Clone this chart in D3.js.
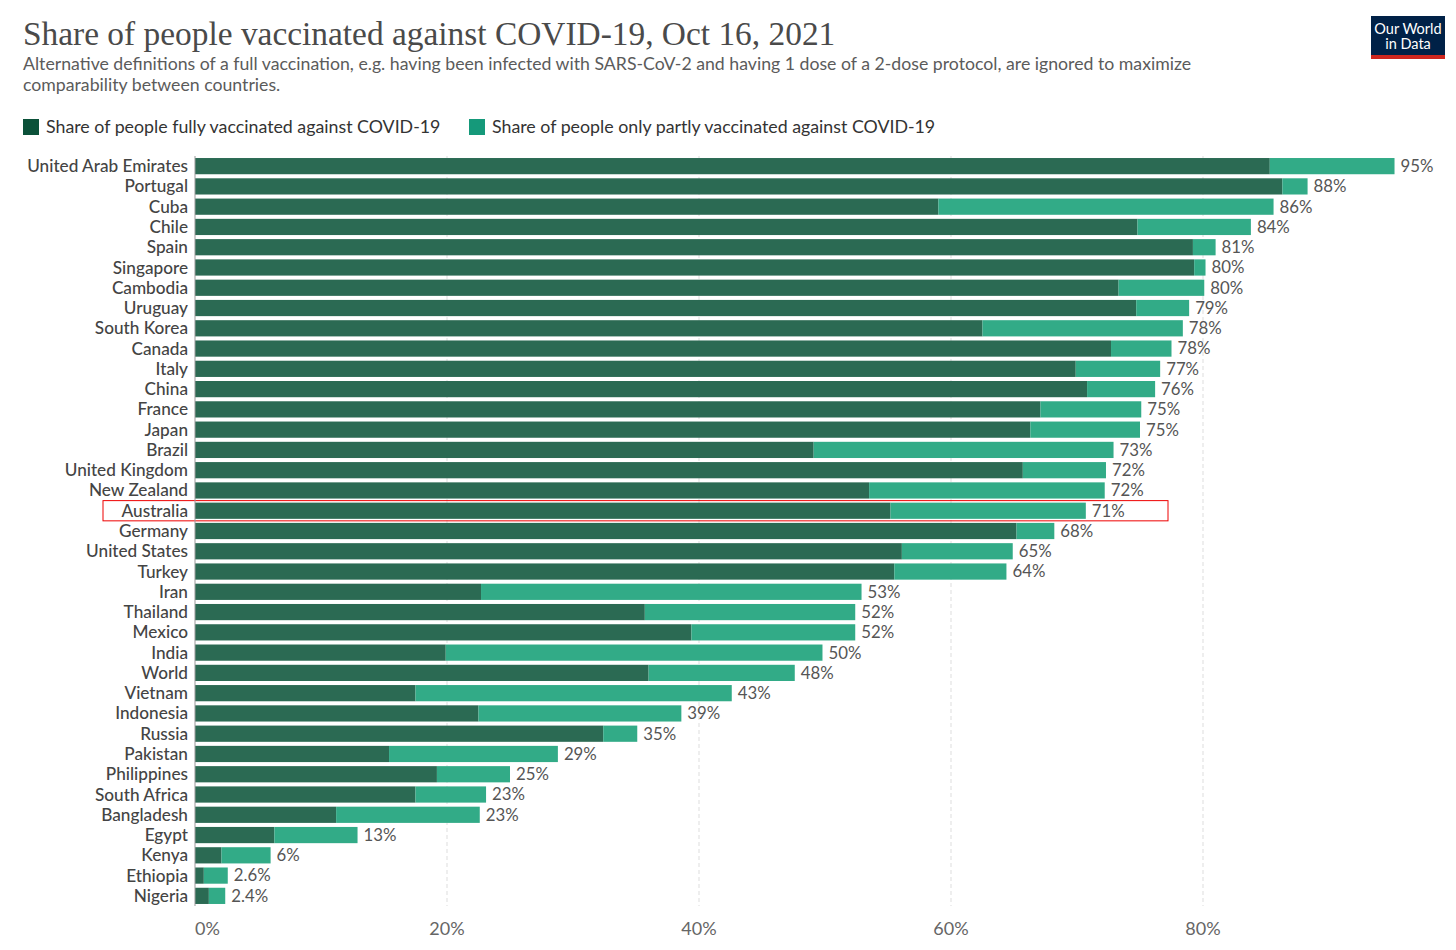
<!DOCTYPE html>
<html>
<head>
<meta charset="utf-8">
<script src="https://cdn.jsdelivr.net/npm/d3@7"></script>
<style>
  body { margin: 0; background: #fff; }
  text { font-family: Lato, "Noto Sans", sans-serif; }
</style>
</head>
<body>
<svg id="chart" width="1456" height="950"></svg>
<script>
const countries = ['United Arab Emirates', 'Portugal', 'Cuba', 'Chile', 'Spain', 'Singapore', 'Cambodia',
    'Uruguay', 'South Korea', 'Canada', 'Italy', 'China', 'France', 'Japan', 'Brazil', 'United Kingdom',
    'New Zealand', 'Australia', 'Germany', 'United States', 'Turkey', 'Iran', 'Thailand', 'Mexico', 'India',
    'World', 'Vietnam', 'Indonesia', 'Russia', 'Pakistan', 'Philippines', 'South Africa', 'Bangladesh',
    'Egypt', 'Kenya', 'Ethiopia', 'Nigeria']
const fully = [85.3, 86.3, 59.0, 74.8, 79.2, 79.3, 73.3, 74.7, 62.5, 72.7, 69.9, 70.8, 67.1, 66.3, 49.1, 65.7,
    53.5, 55.2, 65.2, 56.1, 55.5, 22.7, 35.7, 39.4, 19.9, 36.0, 17.5, 22.5, 32.4, 15.4, 19.2, 17.5, 11.2,
    6.3, 2.1, 0.7, 1.1]
const total = [95.2, 88.3, 85.6, 83.8, 81.0, 80.2, 80.1, 78.9, 78.4, 77.5, 76.6, 76.2, 75.1, 75.0, 72.9, 72.3,
    72.2, 70.7, 68.2, 64.9, 64.4, 52.9, 52.4, 52.4, 49.8, 47.6, 42.6, 38.6, 35.1, 28.8, 25.0, 23.1, 22.6,
    12.9, 6.0, 2.6, 2.4]
const ticks = [0, 20, 40, 60, 80]
const highlight = 'Australia'

const colors = { full: '#2b6a53', part: '#32ab87', fullKey: '#0b5139', partKey: '#15997a' }

const svg = d3.select('#chart')
const data = countries.map((c, i) => ({ name: c, full: fully[i], total: total[i] }))

const x = d3.scaleLinear().domain([0, 80]).range([195, 1203])
const y = d3.scaleBand().domain(countries).range([156, 906]).paddingInner(0.2).paddingOuter(0.1)

// header
svg.append('text')
    .attr('x', 23).attr('y', 45)
    .style('font-family', '"Liberation Serif", "DejaVu Serif", serif')
    .style('font-size', '33.4px')
    .attr('fill', '#4a4a4a')
    .text('Share of people vaccinated against COVID-19, Oct 16, 2021')

const sub = ['Alternative definitions of a full vaccination, e.g. having been infected with SARS-CoV-2 and having 1 dose of a 2-dose protocol, are ignored to maximize',
    'comparability between countries.']
svg.selectAll('.sub').data(sub).enter().append('text')
    .attr('class', 'sub')
    .attr('x', 23).attr('y', (d, i) => 70 + i * 21)
    .style('font-size', '17.7px')
    .attr('fill', '#5b5b5b')
    .text(d => d)

// logo
const logo = svg.append('g').attr('transform', 'translate(1371, 16)')
logo.append('rect').attr('width', 74).attr('height', 43).attr('fill', '#002147')
logo.append('rect').attr('y', 39).attr('width', 74).attr('height', 4).attr('fill', '#ce261e')
logo.selectAll('text').data(['Our World', 'in Data']).enter().append('text')
    .attr('x', 37).attr('y', (d, i) => 18 + i * 15)
    .attr('text-anchor', 'middle')
    .attr('fill', '#fff')
    .style('font-size', '14.5px')
    .text(d => d)

// legend
const legend = [
    { label: 'Share of people fully vaccinated against COVID-19', color: colors.fullKey, x: 23 },
    { label: 'Share of people only partly vaccinated against COVID-19', color: colors.partKey, x: 469 }
]
const lg = svg.selectAll('.key').data(legend).enter().append('g')
    .attr('class', 'key')
    .attr('transform', d => `translate(${d.x}, 119)`)
lg.append('rect').attr('width', 16).attr('height', 16).attr('fill', d => d.color)
lg.append('text')
    .attr('x', 23).attr('y', 14)
    .style('font-size', '17.8px')
    .attr('fill', '#333')
    .text(d => d.label)

// grid
svg.selectAll('.grid').data(ticks.filter(t => t > 0)).enter().append('line')
    .attr('class', 'grid')
    .attr('x1', d => x(d)).attr('x2', d => x(d))
    .attr('y1', 156).attr('y2', 906)
    .attr('stroke', '#ddd')
    .attr('stroke-dasharray', '4,3')

svg.selectAll('.tick').data(ticks).enter().append('text')
    .attr('class', 'tick')
    .attr('x', d => x(d))
    .attr('y', 935)
    .attr('text-anchor', d => d === 0 ? 'start' : 'middle')
    .style('font-size', '18px')
    .attr('fill', '#666')
    .text(d => d + '%')

// bars
const rows = svg.selectAll('.row').data(data).enter().append('g')
    .attr('class', 'row')
    .attr('transform', d => `translate(0, ${y(d.name)})`)

rows.append('rect')
    .attr('x', x(0))
    .attr('width', d => x(d.full) - x(0))
    .attr('height', y.bandwidth())
    .attr('fill', colors.full)

rows.append('rect')
    .attr('x', d => x(d.full))
    .attr('width', d => x(d.total) - x(d.full))
    .attr('height', y.bandwidth())
    .attr('fill', colors.part)

rows.append('text')
    .attr('x', 188)
    .attr('y', y.bandwidth() / 2)
    .attr('dy', '0.35em')
    .attr('text-anchor', 'end')
    .style('font-size', '17.2px')
    .style('font-weight', 500)
    .attr('fill', '#444')
    .text(d => d.name)

rows.append('text')
    .attr('x', d => x(d.total) + 6)
    .attr('y', y.bandwidth() / 2)
    .attr('dy', '0.35em')
    .style('font-size', '16.8px')
    .attr('fill', '#555')
    .text(d => d.total < 10 && d.total !== 6 ? d.total.toFixed(1) + '%' : Math.round(d.total) + '%')

// highlight box
const hy = y(highlight)
svg.append('rect')
    .attr('x', 103).attr('y', hy - 2)
    .attr('width', 1168 - 103).attr('height', y.bandwidth() + 4)
    .attr('fill', 'none')
    .attr('stroke', '#e00')
    .attr('stroke-width', 1)

// axis line
svg.append('line')
    .attr('x1', x(0)).attr('x2', x(0))
    .attr('y1', 156).attr('y2', 906)
    .attr('stroke', '#999')
</script>
</body>
</html>
